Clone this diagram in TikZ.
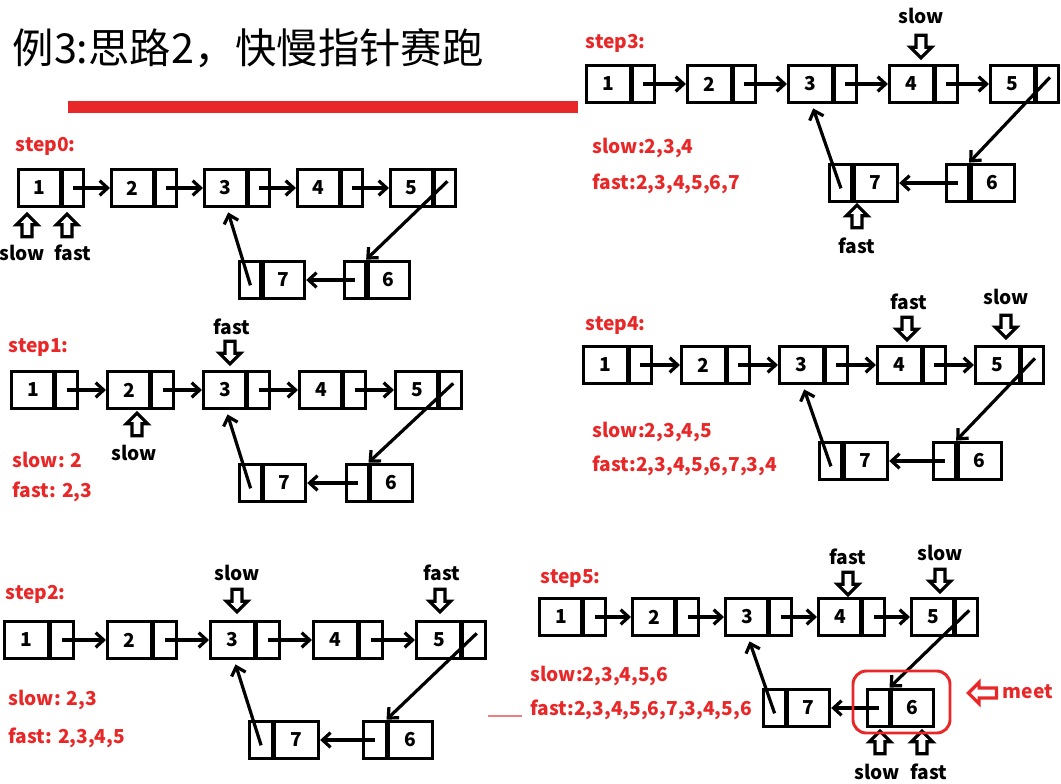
\documentclass[tikz,border=0pt]{standalone}
\usepackage{fontspec}
\setmainfont{Noto Sans CJK SC}
\usetikzlibrary{shapes.arrows,arrows.meta}
\definecolor{rd}{RGB}{232,40,40}
\newcommand\mklist[8]{% prefix, x1, ytop, dx, x7, ybot, x6, w
  \foreach \i in {1,...,5}{
    \node[dat,minimum width={0.66*#8*0.75pt},anchor=west] (#1\i) at ({#2+(\i-1)*#4},#3) {\i};
    \node[ptr,minimum width={0.34*#8*0.75pt},anchor=west] (#1\i p) at ([xshift=-1.3pt]#1\i.east) {};
  }
  \node[ptr,minimum width={0.34*#8*0.75pt},anchor=west] (#17p) at (#5,#6) {};
  \node[dat,minimum width={0.66*#8*0.75pt},anchor=west] (#17) at ([xshift=-1.3pt]#17p.east) {7};
  \node[ptr,minimum width={0.34*#8*0.75pt},anchor=west] (#16p) at (#7,#6) {};
  \node[dat,minimum width={0.66*#8*0.75pt},anchor=west] (#16) at ([xshift=-1.3pt]#16p.east) {6};
  \foreach \i/\j in {1/2,2/3,3/4,4/5}{\draw[lk] (#1\i p.center) -- (#1\j.west);}
  \draw[lk] ([shift={(2pt,5pt)}]#15p.center) -- (#16.north west);
  \draw[lk] (#16p.center) -- (#17.east);
  \draw[lk] ([yshift=-4pt]#17p.center) -- ([xshift=2pt,yshift=-3pt]#13.south);
}
\begin{document}
\begin{tikzpicture}[x=0.75pt,y=-0.75pt,
  dat/.style={draw,line width=2.6pt,minimum height=28pt,inner sep=0pt,font=\bfseries\Large},
  ptr/.style={dat},
  lk/.style={line width=2.4pt,-{Straight Barb[length=6pt,width=11pt]}},
  hd/.style={single arrow,draw,line width=2.4pt,fill=white,minimum height=17pt,minimum width=16pt,single arrow head extend=3pt,inner sep=1.5pt,rotate=-90},
  hu/.style={hd,rotate=180},
  lb/.style={font=\bfseries\Large},
  rt/.style={font=\bfseries\Large,text=rd,anchor=west}]
\useasboundingbox (0,0) rectangle (1061,783);
\node[anchor=west,font=\fontsize{31}{33}\selectfont] (title) at (8,48) {例3:思路2，快慢指针赛跑};
\draw[rd,line width=9pt] (68,107) -- (578,107);
% step0
\node[rt] (s0) at (11,146) {step0:};
\mklist{a}{17}{188}{93}{238}{280}{343}{63}
\node[hu] (a_s) at (27,228) {}; \node[lb] (a_st) at (22,253) {slow};
\node[hu] (a_f) at (67,228) {}; \node[lb] (a_ft) at (73,253) {fast};
% step1
\node[rt] (s1) at (4,348) {step1:};
\mklist{b}{10}{390}{96}{238}{483}{345}{64}
\node[lb] (b_ft) at (232,327) {fast}; \node[hd] (b_f) at (230,350) {};
\node[hu] (b_s) at (137,427) {}; \node[lb] (b_st) at (134,453) {slow};
\node[rt] (b_t1) at (8,460) {slow: 2};
\node[rt] (b_t2) at (8,492) {fast: 2,3};
% step2
\node[rt] (s2) at (1,594) {step2:};
\mklist{c}{3}{640}{103}{248}{740}{362}{67}
\node[lb] (c_st) at (237,573) {slow}; \node[hd] (c_s) at (237,598) {};
\node[lb] (c_ft) at (442,573) {fast}; \node[hd] (c_f) at (440,598) {};
\node[rt] (c_t1) at (4,700) {slow: 2,3};
\node[rt] (c_t2) at (4,738) {fast: 2,3,4,5};
% step3
\node[rt] (s3) at (581,43) {step3:};
\mklist{d}{585}{84}{101}{828}{183}{945}{66}
\node[lb] (d_st) at (921,16) {slow}; \node[hd] (d_s) at (921,44) {};
\node[hu] (d_f) at (857,219) {}; \node[lb] (d_ft) at (857,246) {fast};
\node[rt] (d_t1) at (588,148) {slow:2,3,4};
\node[rt] (d_t2) at (588,184) {fast:2,3,4,5,6,7};
% step4
\node[rt] (s4) at (581,326) {step4:};
\mklist{e}{582}{365}{98}{818}{461}{932}{66}
\node[lb] (e_ft) at (909,302) {fast}; \node[hd] (e_f) at (907,326) {};
\node[lb] (e_st) at (1006,297) {slow}; \node[hd] (e_s) at (1006,324) {};
\node[rt] (e_t1) at (588,432) {slow:2,3,4,5};
\node[rt] (e_t2) at (588,466) {fast:2,3,4,5,6,7,3,4};
% step5
\node[rt] (s5) at (536,579) {step5:};
\mklist{f}{538}{617}{93}{762}{708}{866}{64}
\node[lb] (f_ft) at (848,557) {fast}; \node[hd] (f_f) at (848,581) {};
\node[lb] (f_st) at (940,553) {slow}; \node[hd] (f_s) at (940,578) {};
\node[hu] (f_s2) at (880,745) {}; \node[lb] (f_st2) at (877,772) {slow};
\node[hu] (f_f2) at (922,745) {}; \node[lb] (f_ft2) at (929,772) {fast};
\draw[rd,line width=2.2pt,rounded corners=10pt] (853,671) rectangle (950,733);
\node[single arrow,draw=rd,line width=2.4pt,minimum height=21pt,minimum width=16pt,single arrow head extend=3pt,inner sep=1.5pt,rotate=180] (mk) at (985,693) {};
\node[rt] (meet) at (998,692) {meet};
\node[rt] (f_t1) at (526,676) {slow:2,3,4,5,6};
\node[rt] (f_t2) at (526,710) {fast:2,3,4,5,6,7,3,4,5,6};
\draw[rd!60,line width=0.8pt] (488,716) -- (522,716);
\end{tikzpicture}
\end{document}
